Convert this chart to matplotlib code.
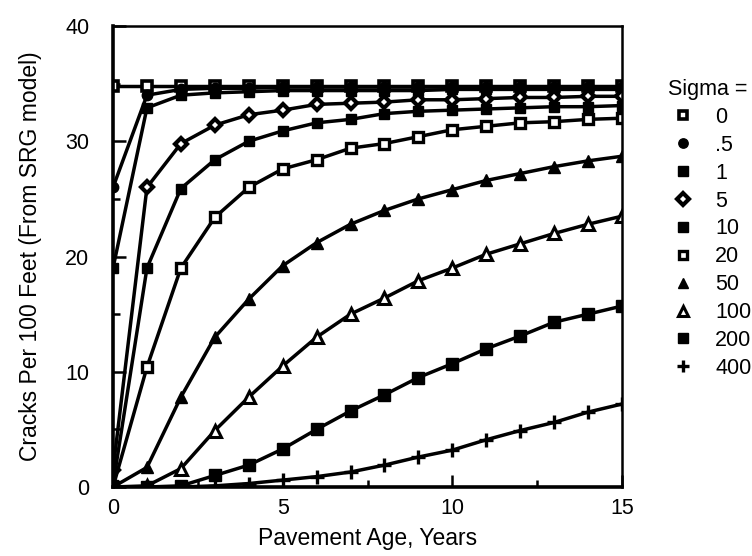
import matplotlib
matplotlib.use("Agg")
import matplotlib.pyplot as plt
from matplotlib.lines import Line2D
from matplotlib.ticker import MultipleLocator

plt.rcParams['font.family'] = ['Liberation Sans', 'DejaVu Sans']

# Pavement age (years) at which the SRG model was evaluated
years = list(range(16))

# Cracks per 100 ft, one series per sigma value
cracks_s0 = [34.8] * 16
cracks_s05 = [26.0, 34.0, 34.5, 34.6, 34.6, 34.7, 34.7, 34.7, 34.7, 34.7, 34.7, 34.7, 34.7, 34.7, 34.7, 34.7]
cracks_s1 = [19.0, 32.9, 34.0, 34.2, 34.3, 34.4, 34.4, 34.4, 34.4, 34.4, 34.5, 34.5, 34.5, 34.5, 34.5, 34.5]
cracks_s5 = [1.5, 26.0, 29.8, 31.4, 32.3, 32.7, 33.2, 33.3, 33.4, 33.6, 33.6, 33.7, 33.8, 33.8, 33.9, 33.9]
cracks_s10 = [0.2, 19.0, 25.9, 28.4, 30.0, 30.9, 31.6, 31.9, 32.4, 32.6, 32.7, 32.8, 32.9, 33.0, 33.0, 33.1]
cracks_s20 = [0.0, 10.4, 19.0, 23.4, 26.0, 27.6, 28.4, 29.4, 29.8, 30.4, 31.0, 31.3, 31.6, 31.7, 31.9, 32.0]
cracks_s50 = [0.0, 1.7, 7.8, 13.0, 16.3, 19.2, 21.2, 22.8, 24.0, 25.0, 25.8, 26.6, 27.2, 27.8, 28.3, 28.7]
cracks_s100 = [0.0, 0.1, 1.6, 4.9, 7.8, 10.5, 13.0, 15.0, 16.4, 17.9, 19.0, 20.2, 21.1, 22.0, 22.8, 23.5]
cracks_s200 = [0.0, 0.0, 0.1, 1.0, 1.9, 3.3, 5.0, 6.6, 8.0, 9.5, 10.7, 12.0, 13.1, 14.3, 15.0, 15.7]
cracks_s400 = [0.0, 0.0, 0.0, 0.1, 0.3, 0.6, 0.9, 1.3, 1.9, 2.6, 3.2, 4.1, 4.9, 5.6, 6.5, 7.2]

sigma_labels = ['0', '.5', '1', '5', '10', '20', '50', '100', '200', '400']

x_ticks = [0, 5, 10, 15]
y_ticks = [0, 10, 20, 30, 40]

series = [cracks_s0, cracks_s05, cracks_s1, cracks_s5, cracks_s10,
          cracks_s20, cracks_s50, cracks_s100, cracks_s200, cracks_s400]

# marker style per sigma: (marker, filled, size, edge width)
styles = [
    ('s', False, 7.0, 2.6),
    ('o', True, 7.5, 1.0),
    ('s', True, 7.5, 1.0),
    ('D', False, 6.5, 3.0),
    ('s', True, 7.5, 1.0),
    ('s', False, 7.0, 2.4),
    ('^', True, 8.0, 1.0),
    ('^', False, 8.0, 2.2),
    ('s', True, 8.0, 1.0),
    ('+', False, 10.0, 2.4),
]

fig = plt.figure(figsize=(7.52, 5.56), dpi=100)
ax = fig.add_axes([0.1503, 0.1241, 0.8271 - 0.1503, 0.9532 - 0.1241])

handles = []
for vals, (mk, filled, ms, mew), lab in zip(series, styles, sigma_labels):
    face = 'black' if filled else 'white'
    if mk == '+':
        face = 'black'
    ax.plot(years, vals, color='black', lw=2.5, marker=mk, ms=ms,
            mfc=face, mec='black', mew=mew, solid_joinstyle='round')
    handles.append(Line2D([], [], ls='none', marker=mk, ms=ms * 0.9,
                          mfc=face, mec='black', mew=mew, label=lab))

ax.set_xlim(0, 15)
ax.set_ylim(0, 40)
ax.set_xticks(x_ticks)
ax.set_yticks(y_ticks)
ax.xaxis.set_minor_locator(MultipleLocator(2.5))
ax.yaxis.set_minor_locator(MultipleLocator(5))
ax.tick_params(which='major', direction='in', length=9, width=1.8,
               labelsize=15.5)
ax.tick_params(axis='y', which='major', pad=17)
ax.tick_params(axis='x', which='major', pad=8)
ax.tick_params(which='minor', direction='in', length=5, width=1.8)
ax.tick_params(top=False, right=False, which='both')

for side in ['left', 'bottom']:
    ax.spines[side].set_linewidth(2.6)
for side in ['top', 'right']:
    ax.spines[side].set_linewidth(1.8)

ax.set_xlabel('Pavement Age, Years', fontsize=16.5, labelpad=6)
ax.set_ylabel('Cracks Per 100 Feet (From SRG model)', fontsize=16.5, labelpad=17)

leg = ax.legend(handles=handles, title='Sigma =', loc='upper left',
                bbox_to_anchor=(668 / 752, 1 - 79 / 556),
                bbox_transform=fig.transFigure, frameon=False,
                fontsize=15.5, title_fontsize=15.5, alignment='left',
                handlelength=1.4, handletextpad=0.8, labelspacing=0.32,
                borderpad=0.0, borderaxespad=0.0)

fig.savefig('out.png', dpi=100)
